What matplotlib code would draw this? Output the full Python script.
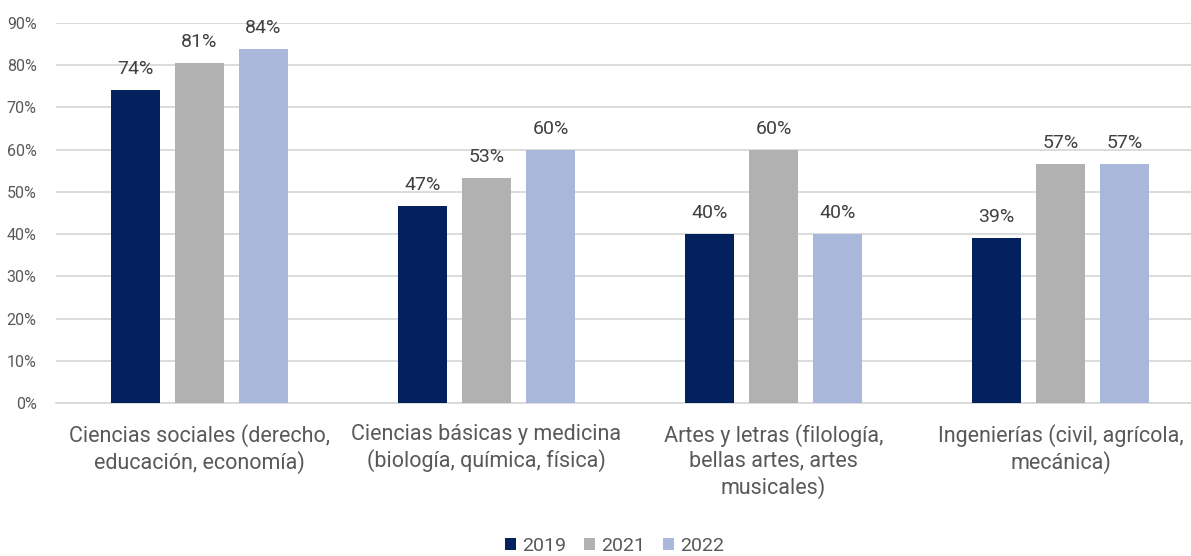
import numpy as np
import matplotlib.pyplot as plt

plt.rcParams['font.family'] = ['Roboto', 'DejaVu Sans']

# --- Data ---
categories = [
    "Ciencias sociales (derecho,\neducación, economía)",
    "Ciencias básicas y medicina\n(biología, química, física)",
    "Artes y letras (filología,\nbellas artes, artes\nmusicales)",
    "Ingenierías (civil, agrícola,\nmecánica)",
]
years = ["2019", "2021", "2022"]
v2019 = [74.2, 46.6, 40.0, 39.1]
v2021 = [80.6, 53.3, 60.0, 56.6]
v2022 = [83.9, 60.0, 40.0, 56.6]
colors = ['#03215C', '#B1B1B1', '#A9B7DA']

text_col = '#595959'

fig = plt.figure(figsize=(11.91, 5.56), dpi=100)
# axes runs a bit past the right edge, like the clipped original
ax = fig.add_axes([0.047, 0.2752, 0.964, 0.6834])

x = np.arange(len(categories))
width = 0.171
step = 0.223

for i, (vals, yr, col) in enumerate(zip([v2019, v2021, v2022], years, colors)):
    bars = ax.bar(x + (i - 1) * step, vals, width, color=col, label=yr, zorder=3)
    for b, v in zip(bars, vals):
        ax.text(b.get_x() + b.get_width() / 2, v + 2.8, f"{v:.0f}%",
                ha='center', va='bottom', fontsize=14, color='#404040')

ax.set_xlim(-0.5, 3.5)
ax.set_ylim(0, 90)
ax.set_yticks(np.arange(0, 91, 10))
ax.set_yticklabels([f"{t}%" for t in range(0, 91, 10)])
ax.yaxis.grid(True, color='#D9D9D9', lw=1.3, zorder=0)
ax.set_axisbelow(True)

ax.set_xticks(x)
ax.set_xticklabels(categories, fontsize=15.5, color=text_col, linespacing=1.25)
ax.tick_params(axis='x', length=0, pad=15)
ax.tick_params(axis='y', length=0, labelsize=11.5, labelcolor=text_col, pad=14)

for s in ['top', 'right', 'left']:
    ax.spines[s].set_visible(False)
ax.spines['bottom'].set_color('#D9D9D9')
ax.spines['bottom'].set_linewidth(1.3)

fig.legend(*ax.get_legend_handles_labels(), loc='center',
           bbox_to_anchor=(0.516, 0.018), ncol=3, frameon=False,
           fontsize=14, handlelength=0.6, handleheight=0.6, handletextpad=0.3,
           columnspacing=0.9, labelcolor=text_col, borderpad=0)

fig.savefig('out.png', dpi=100)
